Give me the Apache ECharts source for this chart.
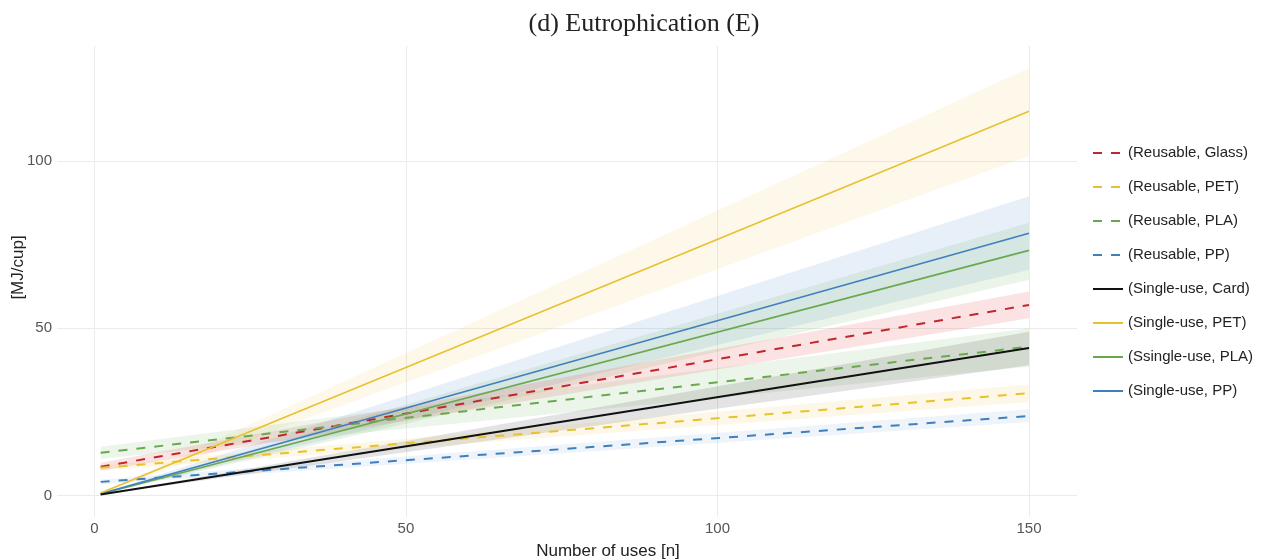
<!DOCTYPE html>
<html>
<head>
<meta charset="utf-8">
<script src="https://cdn.jsdelivr.net/npm/echarts@6/dist/echarts.min.js"></script>
<style>
  html, body { margin: 0; padding: 0; background: #fff; }
  #chart { width: 1269px; height: 560px; }
</style>
</head>
<body>
<div id="chart"></div>
<script>
// uses (x), start and end of every fitted line
var usesN = [1, 150];
var xTicks = [0, 50, 100, 150];
var yTicks = [0, 50, 100];

// reusable cups (dashed)
var reuseGlass   = [8.6, 57.0];
var reuseGlassLo = [7.4, 53.0];
var reuseGlassHi = [9.8, 61.0];
var reusePET     = [8.3, 30.6];
var reusePETLo   = [7.5, 28.0];
var reusePETHi   = [9.1, 33.2];
var reusePLA     = [12.8, 44.5];
var reusePLALo   = [11.0, 38.5];
var reusePLAHi   = [14.6, 50.0];
var reusePP      = [4.1, 23.8];
var reusePPLo    = [3.4, 22.0];
var reusePPHi    = [4.8, 25.8];

// single-use cups (solid)
var singleCard   = [0.30, 44.1];
var singleCardLo = [0.26, 39.0];
var singleCardHi = [0.33, 49.0];
var singlePET    = [0.77, 114.9];
var singlePETLo  = [0.68, 101.5];
var singlePETHi  = [0.86, 127.8];
var singlePLA    = [0.49, 73.3];
var singlePLALo  = [0.43, 64.5];
var singlePLAHi  = [0.55, 81.6];
var singlePP     = [0.52, 78.4];
var singlePPLo   = [0.45, 67.5];
var singlePPHi   = [0.60, 89.5];

var names = ['(Reusable, Glass)', '(Reusable, PET)', '(Reusable, PLA)', '(Reusable, PP)',
             '(Single-use, Card)', '(Single-use, PET)', '(Ssingle-use, PLA)', '(Single-use, PP)'];

var cRed = '#c0272d', cYel = '#e8c12e', cGrn = '#6aa84f', cBlu = '#3f7fbf', cBlk = '#111111';

function pairs(ys) {
  return usesN.map(function (n, i) { return [n, ys[i]]; });
}

// ribbon drawn as polygon through the axis scales
function band(lo, hi, fill) {
  return {
    type: 'custom',
    silent: true,
    z: 1,
    data: usesN.map(function (n, i) { return [n, lo[i], hi[i]]; }),
    encode: { x: 0, y: [1, 2] },
    renderItem: function (params, api) {
      var i = params.dataIndex;
      if (i >= usesN.length - 1) return;
      var pts = [
        api.coord([usesN[i], lo[i]]),
        api.coord([usesN[i + 1], lo[i + 1]]),
        api.coord([usesN[i + 1], hi[i + 1]]),
        api.coord([usesN[i], hi[i]])
      ];
      return { type: 'polygon', shape: { points: pts }, style: { fill: fill } };
    }
  };
}

function line(name, ys, color, dashed, width) {
  return {
    type: 'line',
    name: name,
    data: pairs(ys),
    symbol: 'none',
    z: 3,
    lineStyle: { color: color, width: width, type: dashed ? [9, 9] : 'solid' },
    itemStyle: { color: color }
  };
}

var myChart = echarts.init(document.getElementById('chart'));

var option = {
  backgroundColor: '#fff',
  animation: false,
  title: {
    text: '(d) Eutrophication (E)',
    left: 639, top: 6, textAlign: 'center',
    textStyle: { fontFamily: 'Liberation Serif', fontWeight: 'normal', fontSize: 26, color: '#222' }
  },
  legend: {
    data: names,
    orient: 'vertical',
    left: 1087, top: 140,
    itemWidth: 30, itemHeight: 16, itemGap: 18,
    itemStyle: { opacity: 0 },
    textStyle: { fontFamily: 'Liberation Sans', fontSize: 15, color: '#222', lineHeight: 16 }
  },
  grid: { left: 57, right: 192, top: 46, bottom: 43, containLabel: false, outerBoundsMode: 'none' },
  xAxis: {
    type: 'value', min: -6.0, max: 157.7,
    name: 'Number of uses [n]', nameLocation: 'middle', nameGap: 26,
    nameTextStyle: { fontFamily: 'Liberation Sans', fontSize: 17, color: '#222', padding: [0, 0, 0, 82] },
    axisLine: { show: false },
    axisTick: { show: false, customValues: xTicks },
    axisLabel: { customValues: xTicks, fontFamily: 'Liberation Sans', fontSize: 15, color: '#555', margin: 4 },
    splitLine: { show: true, lineStyle: { color: '#ebebeb', width: 1 } }
  },
  yAxis: {
    type: 'value', min: -6.4, max: 134.4,
    name: '[MJ/cup]', nameLocation: 'middle', nameGap: 30, nameMoveOverlap: false,
    nameTextStyle: { fontFamily: 'Liberation Sans', fontSize: 17, color: '#222', padding: [0, 0, 0, 28] },
    axisLine: { show: false },
    axisTick: { show: false, customValues: yTicks },
    axisLabel: { customValues: yTicks, fontFamily: 'Liberation Sans', fontSize: 15, color: '#555', margin: 5 },
    splitLine: { show: true, lineStyle: { color: '#ebebeb', width: 1 } }
  },
  series: [
    band(singlePETLo, singlePETHi, 'rgba(240,195,70,0.12)'),
    band(singlePPLo, singlePPHi, 'rgba(70,130,205,0.13)'),
    band(singlePLALo, singlePLAHi, 'rgba(100,170,80,0.13)'),
    band(reuseGlassLo, reuseGlassHi, 'rgba(225,70,70,0.15)'),
    band(reusePLALo, reusePLAHi, 'rgba(100,170,80,0.12)'),
    band(singleCardLo, singleCardHi, 'rgba(0,0,0,0.11)'),
    band(reusePETLo, reusePETHi, 'rgba(240,195,70,0.13)'),
    band(reusePPLo, reusePPHi, 'rgba(70,130,205,0.09)'),
    line(names[0], reuseGlass, cRed, true, 2),
    line(names[1], reusePET, cYel, true, 2),
    line(names[2], reusePLA, cGrn, true, 2),
    line(names[3], reusePP, cBlu, true, 2),
    line(names[6], singlePLA, cGrn, false, 1.6),
    line(names[7], singlePP, cBlu, false, 1.6),
    line(names[5], singlePET, cYel, false, 1.6),
    line(names[4], singleCard, cBlk, false, 2)
  ]
};

myChart.setOption(option);
</script>
</body>
</html>
